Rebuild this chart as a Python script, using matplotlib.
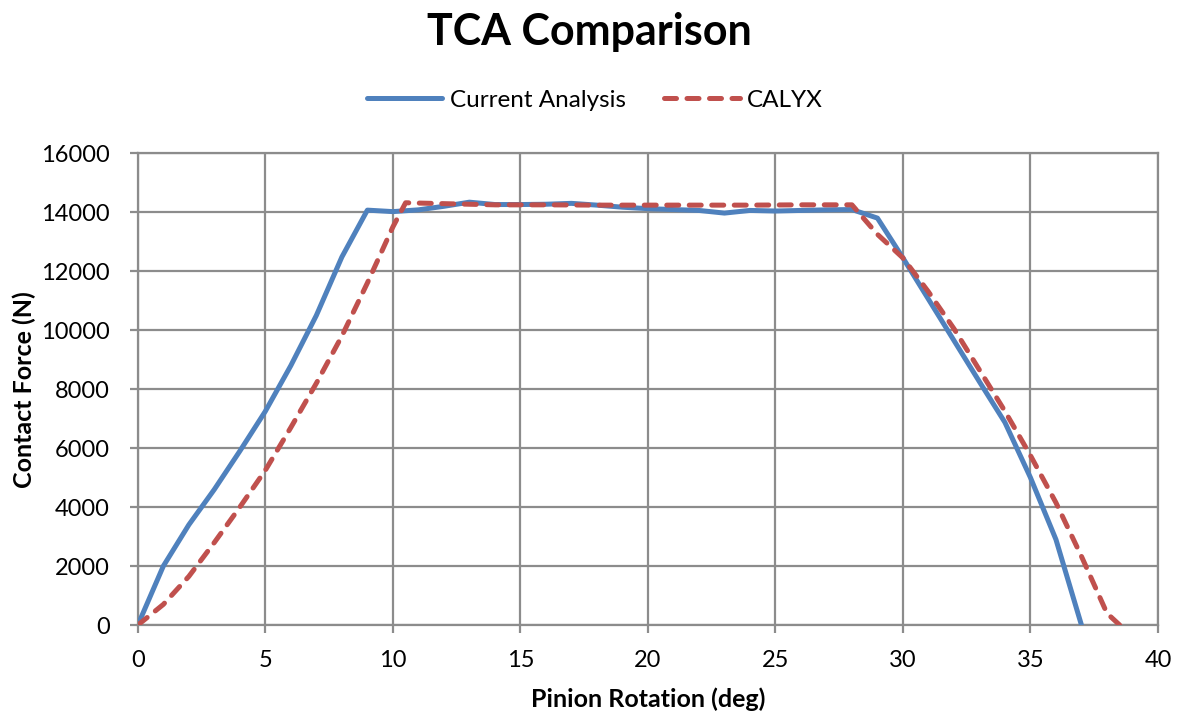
import matplotlib
matplotlib.use("Agg")
import matplotlib.pyplot as plt

plt.rcParams["font.family"] = ["Lato", "DejaVu Sans"]

# Current Analysis (blue)
current_x = [0, 1, 2, 3, 4, 5, 6, 7, 8, 9, 10, 11, 12, 13, 14, 15, 16, 17, 18, 19,
             20, 21, 22, 23, 24, 25, 26, 27, 28, 29, 30, 31, 32, 33, 34, 35, 36, 37]
current_force = [0, 2000, 3400, 4600, 5900, 7250, 8800, 10500, 12480, 14070, 14020, 14080,
                 14200, 14340, 14260, 14260, 14270, 14300, 14240, 14170,
                 14120, 14090, 14060, 13970, 14060, 14040, 14060, 14080, 14090, 13800,
                 12450, 11050, 9650, 8250, 6870, 5000, 2900, 0]

# CALYX (red dashed)
calyx_x = [0, 1, 2, 3, 4, 5, 6, 7, 8, 9, 10, 10.5, 12, 14, 16, 18, 20, 22, 24, 26, 28,
           29, 30, 31, 32, 33, 34, 35, 36, 37, 38, 38.5]
calyx_force = [0, 700, 1650, 2800, 4000, 5250, 6700, 8200, 9800, 11600, 13500, 14320,
               14290, 14250, 14250, 14240, 14240, 14240, 14240, 14250, 14250,
               13250, 12450, 11300, 10050, 8650, 7250, 5750, 4150, 2330, 400, 0]

x_ticks = [0, 5, 10, 15, 20, 25, 30, 35, 40]
y_ticks = [0, 2000, 4000, 6000, 8000, 10000, 12000, 14000, 16000]

fig = plt.figure(figsize=(11.78, 7.16), dpi=100)
ax = fig.add_axes([0.117, 0.127, 0.866, 0.659])

ax.plot(current_x, current_force, color="#4F81BD", linewidth=3.6,
        solid_capstyle="round", solid_joinstyle="round", label="Current Analysis", zorder=3)
ax.plot(calyx_x, calyx_force, color="#C0504D", linewidth=3.6, linestyle=(0, (2.4, 2.1)),
        dash_capstyle="round", dash_joinstyle="round", label="CALYX", zorder=4)

ax.set_xlim(0, 40)
ax.set_ylim(0, 16000)
ax.set_xticks(x_ticks)
ax.set_yticks(y_ticks)
ax.tick_params(labelsize=17, length=6, width=1.6, color="#8c8c8c",
               direction="out", labelcolor="black")
ax.tick_params(axis="x", pad=12)
ax.tick_params(axis="y", pad=14)
ax.grid(True, color="#8c8c8c", linewidth=1.6)
ax.set_axisbelow(True)
for spine in ax.spines.values():
    spine.set_color("#8c8c8c")
    spine.set_linewidth(1.6)

ax.set_xlabel("Pinion Rotation (deg)", fontsize=18, fontweight="bold", labelpad=12)
ax.set_ylabel("Contact Force (N)", fontsize=18, fontweight="bold", labelpad=4)

fig.suptitle("TCA Comparison", fontsize=31, fontweight="bold", y=0.983)
fig.legend(loc="center", bbox_to_anchor=(0.505, 0.86), ncol=2, frameon=False,
           fontsize=17.5, handlelength=3.1, columnspacing=1.6, handletextpad=0.3)

fig.savefig("out.png", dpi=100)
